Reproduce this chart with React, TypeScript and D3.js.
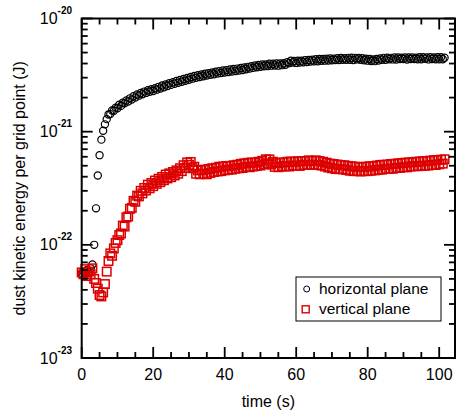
import React from "react";
import * as d3 from "d3";

// sampling interval of the measurement (s)
const dt = 0.5;

// horizontal plane, kinetic energy in units of 1e-22 J
const horizontal = [
  0.56, 0.58, 0.55, 0.60, 0.57, 0.62, 0.67, 1.00, 2.10, 4.10,
  6.20, 8.50, 10.2, 11.6, 12.9, 14.2, 14.3, 15.4, 15.3, 16.3,
  16.1, 17.3, 16.9, 18.0, 17.8, 18.9, 18.5, 19.7, 19.2, 20.6,
  20.0, 21.3, 20.8, 22.0, 21.4, 22.6, 22.0, 23.2, 22.5, 23.7,
  22.9, 24.2, 23.5, 24.9, 24.1, 25.6, 24.7, 26.1, 25.3, 26.8,
  25.9, 27.4, 26.5, 28.0, 27.0, 28.6, 27.6, 29.2, 28.2, 29.8,
  28.8, 30.4, 29.4, 31.0, 29.9, 31.5, 30.4, 32.0, 30.9, 32.5,
  31.3, 32.9, 31.8, 33.4, 32.2, 33.8, 32.6, 34.3, 33.0, 34.7,
  33.3, 35.0, 33.6, 35.4, 34.0, 35.8, 34.3, 36.1, 34.7, 36.5,
  35.1, 36.9, 35.6, 37.4, 36.1, 37.9, 36.6, 38.4, 37.1, 38.9,
  37.4, 39.2, 37.8, 39.3, 38.0, 39.8, 38.3, 39.8, 38.4, 40.1,
  38.3, 40.1, 38.7, 40.2, 39.0, 41.2, 40.3, 42.3, 40.9, 42.2,
  40.5, 42.3, 40.8, 42.4, 41.1, 42.9, 41.2, 43.0, 41.6, 43.3,
  41.8, 43.6, 41.9, 43.8, 42.3, 43.8, 42.4, 44.2, 42.5, 44.3,
  42.8, 44.2, 42.9, 44.6, 42.9, 44.7, 43.2, 44.6, 43.1, 44.9,
  43.2, 45.0, 43.0, 44.9, 43.5, 44.8, 43.1, 44.5, 42.8, 44.2,
  42.4, 43.8, 42.1, 43.5, 42.0, 43.8, 42.5, 44.4, 43.1, 44.9,
  43.2, 45.0, 43.6, 44.9, 43.5, 45.3, 43.4, 45.2, 43.8, 45.1,
  43.8, 45.2, 43.4, 45.3, 43.9, 45.2, 43.8, 45.1, 43.7, 45.5,
  43.6, 45.4, 44.0, 45.3, 43.5, 45.4, 43.9, 45.2, 43.7, 45.4,
  43.6, 45.5, 43.7, 45.0,
];

// vertical plane, kinetic energy in units of 1e-22 J
const vertical = [
  0.57, 0.55, 0.61, 0.53, 0.58, 0.55, 0.62, 0.50, 0.46, 0.41,
  0.36, 0.35, 0.38, 0.45, 0.58, 0.72, 0.84, 0.80, 0.93, 1.04,
  1.10, 1.22, 1.26, 1.48, 1.45, 1.75, 1.78, 2.08, 2.12, 2.45,
  2.40, 2.72, 2.68, 3.00, 2.85, 3.18, 3.02, 3.40, 3.16, 3.52,
  3.30, 3.70, 3.46, 3.84, 3.58, 3.98, 3.72, 4.18, 3.86, 4.28,
  3.96, 4.40, 4.10, 4.55, 4.25, 4.75, 4.48, 5.05, 4.78, 5.35,
  5.10, 5.40, 4.75, 4.90, 4.25, 4.55, 4.20, 4.58, 4.25, 4.62,
  4.20, 4.68, 4.32, 4.75, 4.40, 4.80, 4.45, 4.90, 4.48, 4.92,
  4.55, 4.98, 4.60, 4.98, 4.62, 5.05, 4.70, 5.10, 4.75, 5.20,
  4.78, 5.25, 4.88, 5.30, 4.85, 5.35, 4.92, 5.32, 4.98, 5.42,
  5.02, 5.52, 5.15, 5.70, 5.25, 5.68, 5.12, 5.42, 4.88, 5.28,
  4.85, 5.32, 4.92, 5.35, 4.95, 5.42, 4.92, 5.45, 5.02, 5.42,
  5.00, 5.48, 4.98, 5.50, 5.08, 5.48, 5.10, 5.58, 5.08, 5.50,
  5.10, 5.58, 5.08, 5.50, 5.02, 5.42, 4.92, 5.32, 4.82, 5.22,
  4.75, 5.18, 4.68, 5.12, 4.66, 5.08, 4.65, 5.05, 4.58, 4.98,
  4.52, 4.95, 4.48, 4.90, 4.48, 4.88, 4.45, 4.88, 4.48, 4.90,
  4.48, 4.95, 4.52, 4.95, 4.55, 5.02, 4.60, 5.08, 4.62, 5.10,
  4.68, 5.12, 4.70, 5.18, 4.70, 5.20, 4.78, 5.25, 4.78, 5.28,
  4.85, 5.32, 4.84, 5.35, 4.92, 5.38, 4.95, 5.42, 4.95, 5.45,
  4.98, 5.48, 5.00, 5.50, 5.02, 5.55, 5.08, 5.60, 5.08, 5.62,
  5.15, 5.65, 5.22, 5.70,
];

const unit = 1e-22;
const xMajorTicks = [0, 20, 40, 60, 80, 100];
const xMinorStep = 5;
const yDecades = [-23, -22, -21, -20];
const seriesLabels = ["horizontal plane", "vertical plane"];
const xTitle = "time (s)";
const yTitle = "dust kinetic energy per grid point (J)";

const W = 457;
const H = 414;
const M = { left: 81.7, right: 455, top: 18.5, bottom: 358 };
const FONT = "Liberation Sans, Arial, sans-serif";
const RED = "#dc0000";

export default function App() {
  const x = d3.scaleLinear().domain([0, (M.right - M.left) / 3.575]).range([M.left, M.right]);
  const y = d3.scaleLog().domain([1e-23, 1e-20]).range([M.bottom, M.top]);

  const xMinor = d3.range(0, 101, xMinorStep).filter((v) => !xMajorTicks.includes(v));
  const yMajor = yDecades.map((d) => Math.pow(10, d));
  const yMinor: number[] = [];
  yDecades.slice(0, -1).forEach((d) => {
    for (let k = 2; k <= 9; k++) yMinor.push(k * Math.pow(10, d));
  });

  const hPts = horizontal.map((v, i) => ({ t: i * dt, v: v * unit }));
  const vPts = vertical.map((v, i) => ({ t: i * dt, v: v * unit }));

  const tickStroke = 1.8;
  const majLen = 11;
  const minLen = 6;
  const sq = 8.5;

  return (
    <svg width={W} height={H} style={{ position: "absolute", left: 0, top: 0 }} fontFamily={FONT}>
      <rect x={0} y={0} width={W} height={H} fill="white" />
      {/* data */}
      <g fill="none" stroke="black" strokeWidth={1.2}>
        {hPts.map((p, i) => (
          <circle key={i} cx={x(p.t)} cy={y(p.v)} r={3.6} />
        ))}
      </g>
      <g fill="none" stroke={RED} strokeWidth={1.5}>
        {vPts.map((p, i) => (
          <rect key={i} x={x(p.t) - sq / 2} y={y(p.v) - sq / 2} width={sq} height={sq} />
        ))}
      </g>
      {/* ticks */}
      <g stroke="black" strokeWidth={tickStroke}>
        {xMajorTicks.map((t) => (
          <g key={"xM" + t}>
            <line x1={x(t)} x2={x(t)} y1={M.bottom} y2={M.bottom - majLen} />
            <line x1={x(t)} x2={x(t)} y1={M.top} y2={M.top + majLen} />
          </g>
        ))}
        {xMinor.map((t) => (
          <g key={"xm" + t}>
            <line x1={x(t)} x2={x(t)} y1={M.bottom} y2={M.bottom - minLen} />
            <line x1={x(t)} x2={x(t)} y1={M.top} y2={M.top + minLen} />
          </g>
        ))}
        {yMajor.map((v) => (
          <g key={"yM" + v}>
            <line x1={M.left} x2={M.left + majLen} y1={y(v)} y2={y(v)} />
            <line x1={M.right} x2={M.right - majLen} y1={y(v)} y2={y(v)} />
          </g>
        ))}
        {yMinor.map((v) => (
          <g key={"ym" + v}>
            <line x1={M.left} x2={M.left + minLen} y1={y(v)} y2={y(v)} />
            <line x1={M.right} x2={M.right - minLen} y1={y(v)} y2={y(v)} />
          </g>
        ))}
      </g>
      {/* frame */}
      <rect
        x={M.left}
        y={M.top}
        width={M.right - M.left}
        height={M.bottom - M.top}
        fill="none"
        stroke="black"
        strokeWidth={2}
      />
      {/* x tick labels */}
      <g fontSize={16} textAnchor="middle" fill="black">
        {xMajorTicks.map((t) => (
          <text key={"xl" + t} x={x(t)} y={380}>
            {t}
          </text>
        ))}
      </g>
      {/* y tick labels */}
      <g fill="black">
        {yDecades.map((d) => (
          <text key={"yl" + d} x={72} y={y(Math.pow(10, d)) + 5.5} textAnchor="end" fontSize={16}>
            10
            <tspan dy={-10} fontSize={10} fontWeight="bold">
              {d}
            </tspan>
          </text>
        ))}
      </g>
      {/* titles */}
      <text x={(M.left + M.right) / 2} y={406.5} textAnchor="middle" fontSize={16}>
        {xTitle}
      </text>
      <text
        transform={`translate(25, ${(M.top + M.bottom) / 2}) rotate(-90)`}
        textAnchor="middle"
        fontSize={16}
      >
        {yTitle}
      </text>
      {/* legend */}
      <g>
        <rect x={296} y={277} width={145} height={44} fill="white" stroke="black" strokeWidth={1} />
        <circle cx={306.7} cy={289} r={3} fill="none" stroke="black" strokeWidth={1} />
        <rect x={302.2} y={305.8} width={7} height={7} fill="none" stroke={RED} strokeWidth={1.4} />
        <text x={319} y={294} fontSize={15.5}>
          {seriesLabels[0]}
        </text>
        <text x={319} y={314} fontSize={15.5}>
          {seriesLabels[1]}
        </text>
      </g>
    </svg>
  );
}
